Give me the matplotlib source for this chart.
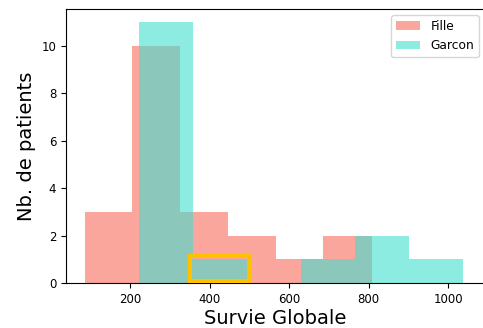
import numpy as np
import matplotlib.pyplot as plt
from matplotlib.patches import Rectangle

# Survie globale (jours) - histogrammes
FILLE_EDGES = [86, 206, 326, 446, 566, 686, 807]
FILLE_COUNTS = [3, 10, 3, 2, 1, 2]
GARCON_EDGES = [223, 358, 494, 630, 765, 901, 1036]
GARCON_COUNTS = [11, 1, 0, 1, 2, 1]
LABELS = ["Fille", "Garcon"]

# zone surlignee en jaune
HIGHLIGHT_X = (351.5, 498)
HIGHLIGHT_Y = (0.1, 1.15)

W, H, DPI = 483, 328, 100
fig = plt.figure(figsize=(W / DPI, H / DPI), dpi=DPI)
# the right spine falls just outside the picture, as in the original crop
ax = fig.add_axes([66 / W, 45 / H, 419 / W, 274 / H])

ax.hist(FILLE_EDGES[:-1], bins=FILLE_EDGES, weights=FILLE_COUNTS,
        color="salmon", alpha=0.7, label=LABELS[0])
ax.hist(GARCON_EDGES[:-1], bins=GARCON_EDGES, weights=GARCON_COUNTS,
        color="turquoise", alpha=0.6, label=LABELS[1])

rect = Rectangle((HIGHLIGHT_X[0], HIGHLIGHT_Y[0]),
                 HIGHLIGHT_X[1] - HIGHLIGHT_X[0],
                 HIGHLIGHT_Y[1] - HIGHLIGHT_Y[0],
                 fill=False, edgecolor="#FFC000", linewidth=2.9,
                 clip_on=False, zorder=5)
ax.add_patch(rect)

ax.set_xlim(39, 1092)
ax.set_xticks([200, 400, 600, 800, 1000])
ax.set_yticks([0, 2, 4, 6, 8, 10])
ax.tick_params(labelsize=8.5)
ax.set_xlabel("Survie Globale", fontsize=14, labelpad=2)
ax.set_ylabel("Nb. de patients", fontsize=14, labelpad=4)
ax.legend(loc="upper right", fontsize=8.8)

fig.savefig("out.png", dpi=DPI)
